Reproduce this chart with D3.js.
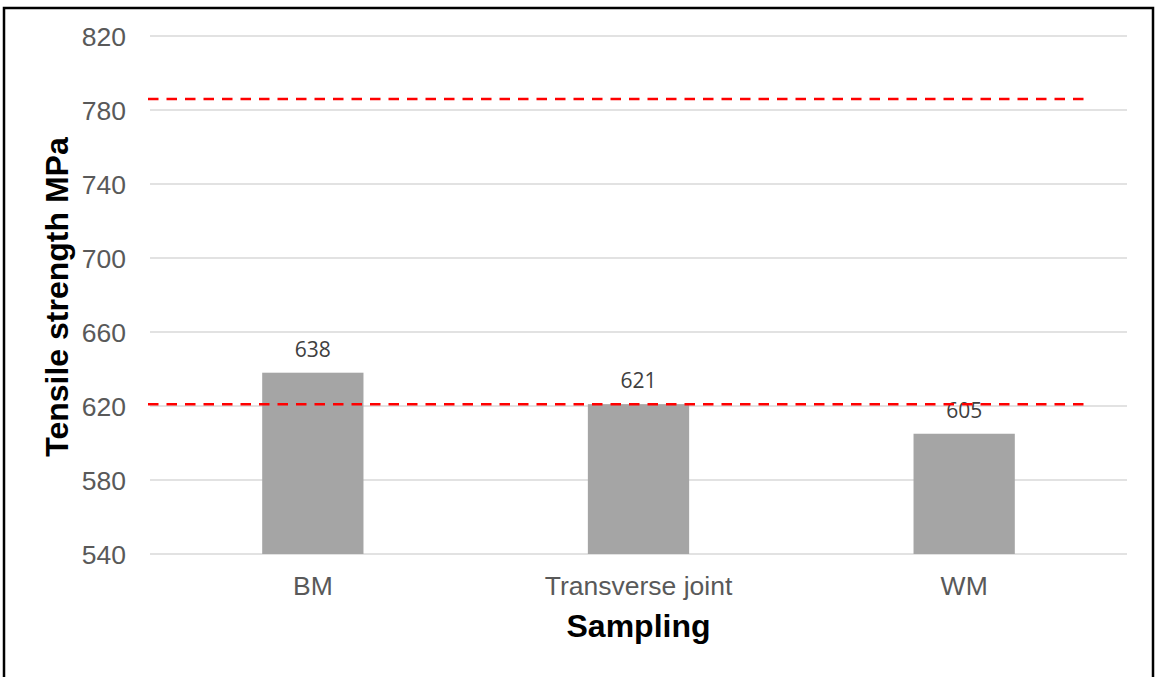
<!DOCTYPE html>
<html>
<head>
<meta charset="utf-8">
<script src="https://cdn.jsdelivr.net/npm/d3@7"></script>
<style>
  html, body { margin: 0; padding: 0; background: #fff; }
  svg { display: block; }
</style>
</head>
<body>
<svg id="chart" width="1156" height="677"></svg>
<script>
const categories = ["BM", "Transverse joint", "WM"];
const values = [638, 621, 605];
const yTicks = [540, 580, 620, 660, 700, 740, 780, 820];
const limitLines = [786, 621];
const yTitle = "Tensile strength MPa";
const xTitle = "Sampling";

(function () {
const svg = d3.select("#chart");
const plotLeft = 150, plotRight = 1127, plotTop = 36, plotBottom = 554;

// outer border
svg.append("rect")
  .attr("x", 4).attr("y", 8)
  .attr("width", 1149).attr("height", 700)
  .attr("fill", "none").attr("stroke", "#000").attr("stroke-width", 2.5);

const x = d3.scaleBand().domain(categories).range([plotLeft, plotRight]).padding(0);
const y = d3.scaleLinear().domain([540, 820]).range([plotBottom, plotTop]);
const barW = x.bandwidth() * 0.311;

// gridlines
svg.append("g").selectAll("line").data(yTicks).join("line")
  .attr("x1", plotLeft).attr("x2", plotRight)
  .attr("y1", d => y(d)).attr("y2", d => y(d))
  .attr("stroke", "#d9d9d9").attr("stroke-width", 1.5);

// y axis tick labels
const yAxis = d3.axisLeft(y).tickValues(yTicks).tickSize(0).tickPadding(0);
const gy = svg.append("g").attr("transform", "translate(126,0)").call(yAxis);
gy.select(".domain").remove();
gy.selectAll("text")
  .attr("font-family", "'Liberation Sans', Arial, sans-serif")
  .attr("font-size", 26.5)
  .attr("fill", "#595959")
  .attr("dy", "0.35em");

// bars
svg.append("g").selectAll("rect").data(categories).join("rect")
  .attr("x", d => x(d) + x.bandwidth() / 2 - barW / 2)
  .attr("width", barW)
  .attr("y", (d, i) => y(values[i]))
  .attr("height", (d, i) => y(540) - y(values[i]))
  .attr("fill", "#a5a5a5");

// value labels
svg.append("g").selectAll("text").data(categories).join("text")
  .attr("x", d => x(d) + x.bandwidth() / 2)
  .attr("y", (d, i) => y(values[i]) - 16)
  .attr("text-anchor", "middle")
  .attr("font-family", "'Open Sans', sans-serif")
  .attr("font-size", 21)
  .attr("fill", "#404040")
  .text((d, i) => values[i]);

// limit lines
svg.append("g").selectAll("line").data(limitLines).join("line")
  .attr("x1", 148).attr("x2", 1086)
  .attr("y1", d => y(d)).attr("y2", d => y(d))
  .attr("stroke", "#ff0000").attr("stroke-width", 2.5)
  .attr("stroke-dasharray", "10.5,8");

// x axis labels
const xAxis = d3.axisBottom(x).tickSize(0).tickPadding(0);
const gx = svg.append("g").attr("transform", "translate(0,595)").call(xAxis);
gx.select(".domain").remove();
gx.selectAll("text")
  .attr("font-family", "'Liberation Sans', Arial, sans-serif")
  .attr("font-size", 26.5)
  .attr("fill", "#595959")
  .attr("dy", 0)
  .attr("y", 0);

// axis titles
svg.append("text")
  .attr("x", (plotLeft + plotRight) / 2).attr("y", 637)
  .attr("text-anchor", "middle")
  .attr("font-family", "'Liberation Sans', Arial, sans-serif")
  .attr("font-weight", "bold")
  .attr("font-size", 32)
  .attr("fill", "#000")
  .text(xTitle);

svg.append("text")
  .attr("transform", "translate(68,297) rotate(-90)")
  .attr("text-anchor", "middle")
  .attr("font-family", "'Liberation Sans', Arial, sans-serif")
  .attr("font-weight", "bold")
  .attr("font-size", 32)
  .attr("fill", "#000")
  .text(yTitle);
})();
</script>
</body>
</html>
